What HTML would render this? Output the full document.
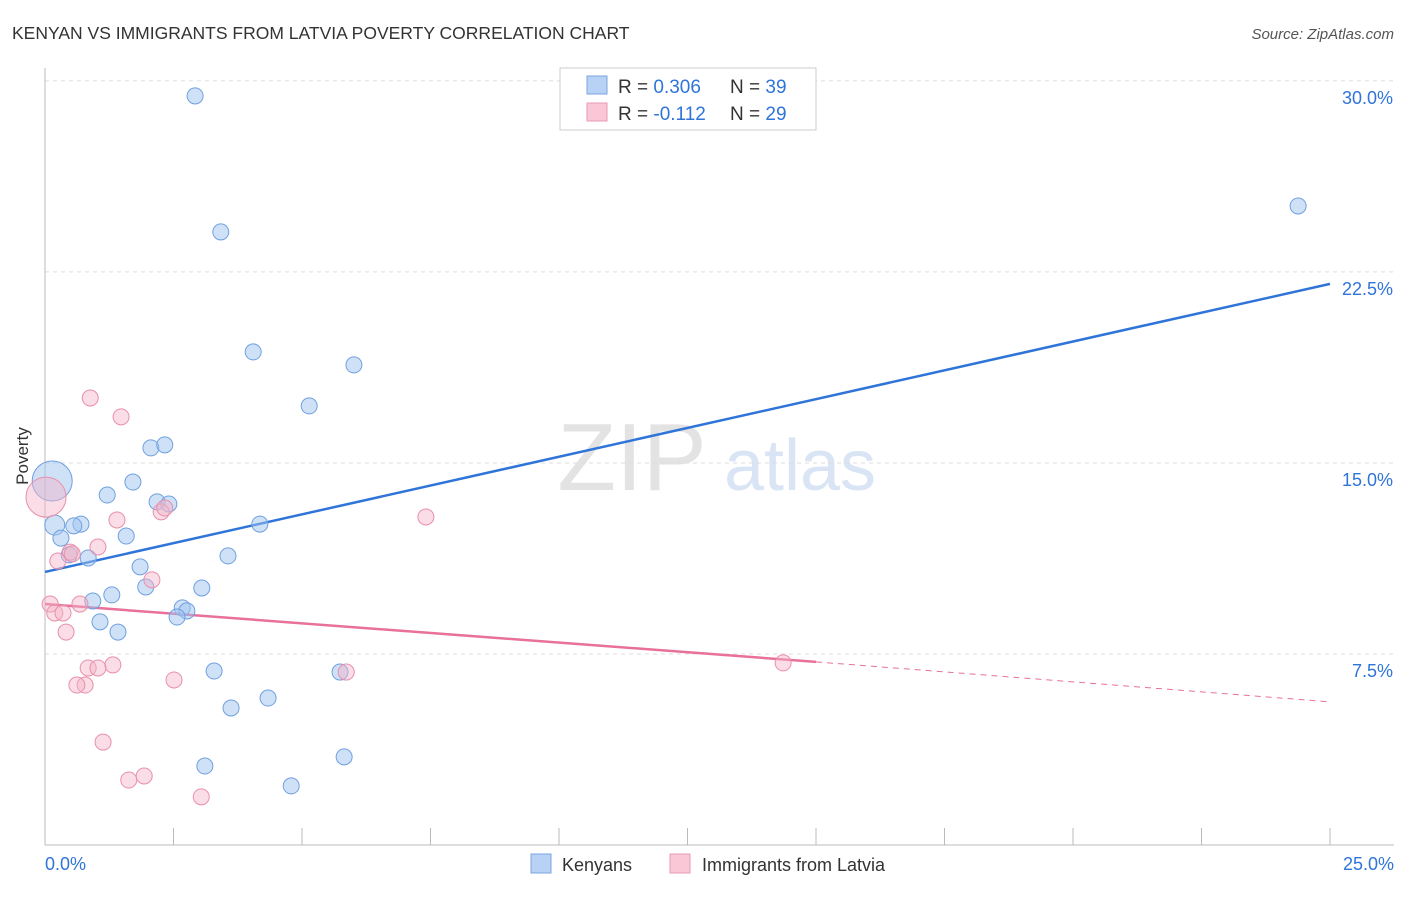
<!DOCTYPE html>
<html><head><meta charset="utf-8"><style>
body{margin:0;background:#fff;font-family:"Liberation Sans",sans-serif;}
svg text{font-family:"Liberation Sans",sans-serif;}
</style></head><body>
<svg id="chart" width="1406" height="892">
<text x="12" y="39" font-size="17.5" fill="#333">KENYAN VS IMMIGRANTS FROM LATVIA POVERTY CORRELATION CHART</text>
<text x="1394" y="39" font-size="15" fill="#555" font-style="italic" text-anchor="end">Source: ZipAtlas.com</text>
<g>
<text x="632" y="490" font-size="96" fill="#ddd" font-family="Liberation Serif" text-anchor="middle" opacity="0.8">ZIP</text>
<text x="800" y="490" font-size="72" fill="#c9daf0" text-anchor="middle" opacity="0.7">atlas</text>
</g>
<g id="grid"></g>
<g id="axes"></g>
<g id="lines"></g>
<g id="points"></g>
<text x="28" y="456" font-size="17" fill="#333" transform="rotate(-90 28 456)" text-anchor="middle">Poverty</text>
<g>
<rect x="560" y="68" width="256" height="62" fill="#fff" stroke="#ccc"/>
<rect x="587" y="76" width="20" height="18" fill="#b7d2f5" stroke="#7aa6e0"/>
<rect x="587" y="103" width="20" height="18" fill="#f9c7d6" stroke="#e99bb3"/>
<text x="618" y="93" font-size="19" fill="#333">R = <tspan fill="#2f74d8">0.306</tspan><tspan x="730">N = </tspan><tspan fill="#2f74d8">39</tspan></text>
<text x="618" y="120" font-size="19" fill="#333">R = <tspan fill="#2f74d8">-0.112</tspan><tspan x="730">N = </tspan><tspan fill="#2f74d8">29</tspan></text>
</g>
<g>
<rect x="531" y="854" width="20" height="19" fill="#b7d2f5" stroke="#7aa6e0"/>
<text x="562" y="871" font-size="18" fill="#333">Kenyans</text>
<rect x="670" y="854" width="20" height="19" fill="#f9c7d6" stroke="#e99bb3"/>
<text x="702" y="871" font-size="18" fill="#333">Immigrants from Latvia</text>
</g>
</svg>
<script>
const yTicks=[7.5,15,22.5,30];
const yTickLabels=["7.5%","15.0%","22.5%","30.0%"];
const xTicks=[0,2.5,5,7.5,10,12.5,15,17.5,20,22.5,25];
const xEndLabels=["0.0%","25.0%"];
const blueX=[2.92,3.42,24.38,4.05,6.01,5.14,2.06,2.33,1.71,1.21,2.18,2.41,4.18,0.19,0.70,0.56,0.31,1.58,0.47,0.84,3.56,1.85,1.96,3.05,1.30,0.93,2.67,2.76,2.57,1.07,1.42,3.29,5.74,4.34,3.62,5.82,3.11,4.79,0.14];
const blueY=[29.41,24.07,25.09,19.36,18.85,17.24,15.59,15.71,14.25,13.74,13.47,13.39,12.60,12.56,12.60,12.53,12.05,12.13,11.39,11.27,11.35,10.92,10.13,10.09,9.82,9.58,9.31,9.19,8.95,8.76,8.36,6.83,6.79,5.77,5.38,3.46,3.10,2.32,14.29];
const blueR=[8,8,8,8,8,8,8,8,8,8,8,8,8,10,8,8,8,8,8,8,8,8,8,8,8,8,8,8,8,8,8,8,8,8,8,8,8,8,20];
const pinkX=[0.02,0.88,1.48,1.40,2.26,2.33,7.41,0.49,1.03,0.25,0.53,2.08,0.10,0.68,0.19,0.35,0.41,1.32,0.84,1.03,0.78,0.62,2.51,5.86,14.36,1.13,1.93,1.63,3.04];
const pinkY=[13.66,17.55,16.81,12.76,13.08,13.23,12.88,11.50,11.70,11.15,11.43,10.41,9.46,9.46,9.11,9.11,8.36,7.07,6.95,6.95,6.28,6.28,6.48,6.79,7.15,4.04,2.71,2.55,1.89];
const pinkR=[20,8,8,8,8,8,8,8,8,8,8,8,8,8,8,8,8,8,8,8,8,8,8,8,8,8,8,8,8];
const blueTrend=[10.72,22.03];
const pinkTrend=[9.46,7.19,5.62];
const NS="http://www.w3.org/2000/svg";
const xs=v=>45+v*51.4, ys=v=>845-v*25.47;
function mk(tag,attrs,parent){const e=document.createElementNS(NS,tag);for(const k in attrs)e.setAttribute(k,attrs[k]);document.getElementById(parent).appendChild(e);return e;}
yTicks.forEach((t,i)=>{
 const g=mk('line',{x1:45,x2:1394,y1:ys(t),y2:ys(t),stroke:'#ddd','stroke-dasharray':'4,4'},'grid');
 
 
 const l=mk('text',{x:1393,y:ys(t)+23,'font-size':18,fill:'#2f74d8','text-anchor':'end'},'grid');
 l.textContent=yTickLabels[i];
 
 
});
const ax=mk('line',{x1:45,x2:1394,y1:845,y2:845,stroke:'#bbb'},'axes');


const ay=mk('line',{x1:45,x2:45,y1:68,y2:845,stroke:'#bbb'},'axes');


xTicks.forEach(t=>{
 const k=mk('line',{x1:xs(t),x2:xs(t),y1:828,y2:845,stroke:'#bbb'},'axes');
 
 
});
const xl0=mk('text',{x:45,y:870,'font-size':18,fill:'#2f74d8'},'axes');
xl0.textContent=xEndLabels[0];


const xl1=mk('text',{x:1394,y:870,'font-size':18,fill:'#2f74d8','text-anchor':'end'},'axes');
xl1.textContent=xEndLabels[1];


blueX.forEach((x,i)=>{
 const c=mk('circle',{cx:xs(x),cy:ys(blueY[i]),r:blueR[i],fill:'rgba(160,195,240,0.5)',stroke:'#6fa0e0','stroke-width':1},'points');
 
 
});
pinkX.forEach((x,i)=>{
 const c=mk('circle',{cx:xs(x),cy:ys(pinkY[i]),r:pinkR[i],fill:'rgba(245,180,200,0.45)',stroke:'#e890aa','stroke-width':1},'points');
 
 
});
const bl=mk('line',{x1:xs(0),y1:ys(blueTrend[0]),x2:xs(25),y2:ys(blueTrend[1]),stroke:'#2f74d8','stroke-width':2.5},'lines');


const pl=mk('line',{x1:xs(0),y1:ys(pinkTrend[0]),x2:xs(15),y2:ys(pinkTrend[1]),stroke:'#e8709a','stroke-width':2.5},'lines');


const pd=mk('line',{x1:xs(15),y1:ys(pinkTrend[1]),x2:xs(25),y2:ys(pinkTrend[2]),stroke:'#e8709a','stroke-width':1,'stroke-dasharray':'6,5'},'lines');


</script>
</body></html>
